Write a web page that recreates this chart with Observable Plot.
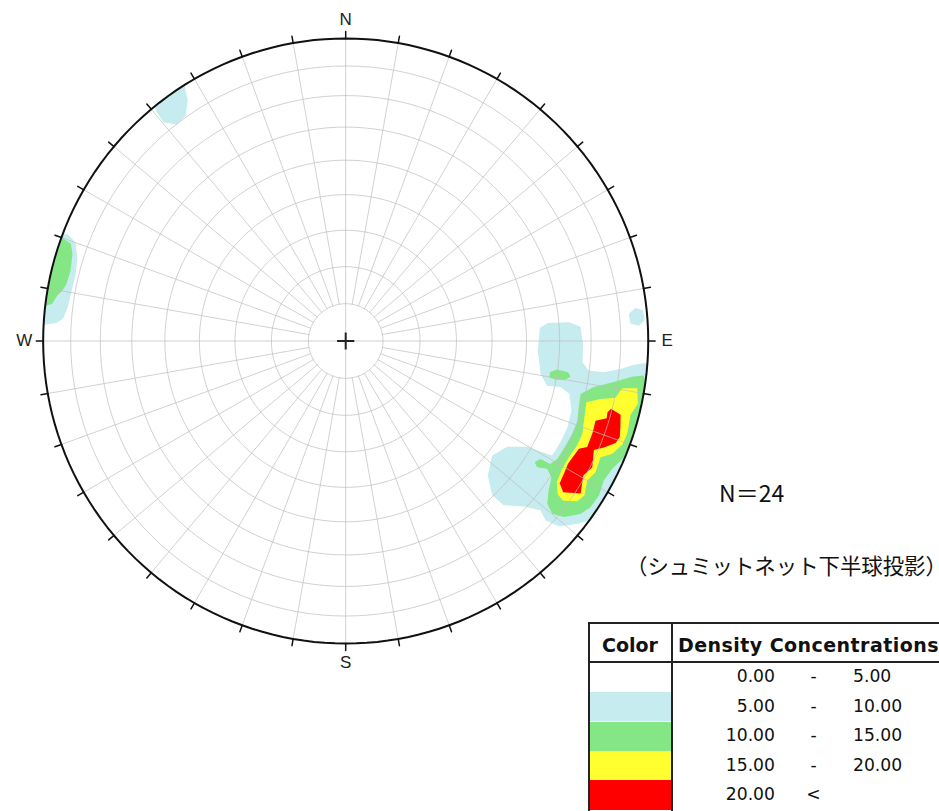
<!DOCTYPE html>
<html>
<head>
<meta charset="utf-8">
<script src="https://cdn.jsdelivr.net/npm/d3@7"></script>
<script src="https://cdn.jsdelivr.net/npm/@observablehq/plot@0.6"></script>
<style>
  html, body { margin: 0; padding: 0; background: #fff; }
  #page { position: relative; width: 939px; height: 811px; overflow: hidden; background: #fff; }
  #chart { position: absolute; left: 0; top: 0; }
  .abs { position: absolute; white-space: nowrap; }
  .jp { font-family: "Noto Sans CJK JP", sans-serif; color: #111; line-height: 1; }
  .lg { font-family: "DejaVu Sans", sans-serif; color: #111; line-height: 1; }
</style>
</head>
<body>
<div id="page"><div id="chart"></div></div>
<script>
// ---------------- data ----------------
// density contour outlines, [azimuth (deg), plunge (deg)], lower-hemisphere poles
const cyanE = [[86.1,35.9],[84.9,33.3],[85.2,26.8],[86.5,23.3],[90.7,22.6],[95.1,22.5],[96.9,20.2],[96.9,15.2],[95.8,9.6],[94.7,5],[94,-1],[100,-1],[105,-1],[110,-1],[115,-1],[120,-1],[125,-1],[127,0.8],[128.3,2.8],[131,7.4],[131.9,12.2],[131,15.8],[132.9,20.7],[136.1,25.6],[136.5,30.3],[133.4,35.6],[128,38.5],[123.2,36.4],[120.2,31.2],[119.5,26.2],[119,23],[115.2,22.6],[111.2,22.4],[107.1,23],[103.3,25],[102.1,28.2],[102.5,32.3],[99.6,35],[92.8,36.6]];
const cyanNE = [[84.5,6.7],[83.5,4.1],[84.1,1.3],[86.1,1.1],[87,3.4],[86.5,6.4]];
const cyanNW = [[321,-1],[325,-1],[328,-1],[326.7,5.5],[324.6,9.5],[322,10.1],[320.2,6.7],[320.4,2.7]];
const cyanW = [[290.8,-1],[291,2],[290,5.6],[287.1,8],[283.6,8.9],[280,8.7],[276.7,8.2],[274.5,7],[273.5,4.5],[273,-1],[281,-1]];
const greenE = [[102.7,21.5],[100.5,17.7],[98.7,11.3],[97.1,5.2],[96.6,1.1],[98.8,-1],[101.3,-1],[104,-1],[107.2,-1],[110.1,-1],[113.1,0.7],[115.6,2.6],[118.4,3.4],[121.4,2.2],[124.2,2.5],[126.4,4.1],[128.9,8.1],[129.9,12],[128.9,15.5],[126.4,17.8],[123.5,19.6],[122.4,22.2],[123.4,25.2],[122.7,26.7],[121.2,25.7],[121,22.2],[119.1,21],[115.4,20.6],[112.3,20.2],[109.3,20],[105.5,21.1]];
const greenSpotE = [[98.7,32.3],[97.7,30.2],[98,26.7],[99,25.7],[100,27.1],[100.5,30.2],[100.1,32.1]];
const greenW = [[290.1,-1],[289.5,4.1],[287.7,5.8],[284.4,6.8],[281.6,6.5],[280.1,5.5],[279,4],[277.2,2.4],[276.5,-1],[283,-1]];
const yellowE = [[99.7,8.1],[99.2,2.7],[102.1,1.4],[104.5,3.1],[108.2,2.3],[110.5,2.7],[112.9,4.8],[114.5,8.2],[117.7,7.5],[120,8.6],[122.9,6.7],[124.7,7.7],[126.3,11.8],[125.9,14.5],[123.8,17.2],[120.6,18],[117.5,18],[114.3,17.2],[111.4,17.1],[107.7,18.3],[104.3,19],[102.8,14.7],[101.9,9.8]];
const redE = [[104.3,10.4],[105,6.6],[109.3,4.5],[110.7,5.2],[112.4,8.5],[113.7,11.4],[117.1,9.3],[119.5,10.7],[123,8.2],[124.8,13.5],[123.6,16.2],[118.9,17.2],[114.8,16.2],[113.7,13.9],[110.5,14],[107.7,14.4],[106.5,11],[105.2,11.3]];

// legend
const legendLow = ["0.00", "5.00", "10.00", "15.00", "20.00"];
const legendSep = ["-", "-", "-", "-", "<"];
const legendHigh = ["5.00", "10.00", "15.00", "20.00", ""];
const legendColors = ["#ffffff", "#c6ecef", "#84e684", "#ffff30", "#ff0000"];
const legendHeader = ["Color", "Density Concentrations"];

// annotations
const countLabel = "N＝24";
const methodLabel = "（シュミットネット下半球投影）";
const cardinalLabels = ["N", "E", "S", "W"];
const cardinalAzimuths = [0, 90, 180, 270];
const tickAzimuths = d3.range(0, 360, 10);

// ---------------- build ----------------
const legendLabels = legendLow.map((v, i) => `${v} ${legendSep[i]} ${legendHigh[i]}`.trim());
const regions = [
  [1, cyanE], [1, cyanNE], [1, cyanNW], [1, cyanW],
  [2, greenE], [2, greenSpotE], [2, greenW],
  [3, yellowE], [4, redE]
];
// azimuth -> longitude for a north-pole-centred azimuthal projection (N up, E right)
const lon = az => 180 - az;
function toFeature([level, pts]) {
  const ring = pts.map(([az, pl]) => [lon(az), pl]);
  ring.push(ring[0]);
  const f = {type: "Feature", properties: {level: legendLabels[level]}, geometry: {type: "Polygon", coordinates: [ring]}};
  if (d3.geoArea(f) > 2 * Math.PI) ring.reverse();
  return f;
}
const features = regions.map(toFeature);
const hemisphere = d3.geoCircle().center([0, 90]).radius(90).precision(1)();

const labelGap = 19;
const cardinalMarks = cardinalLabels.map((t, i) => {
  const a = cardinalAzimuths[i] * Math.PI / 180;
  return Plot.text([{t, az: cardinalAzimuths[i]}], {
    x: d => lon(d.az), y: () => 0.05, text: "t",
    dx: labelGap * Math.sin(a), dy: -labelGap * Math.cos(a),
    fontFamily: "Liberation Sans", fontSize: 17, fill: "#222"
  });
});

const chart = Plot.plot({
  width: 690, height: 681,
  marginLeft: 42.7, marginRight: 42.3, marginTop: 38, marginBottom: 38,
  style: {background: "transparent", overflow: "visible"},
  projection: {
    type: () => d3.geoAzimuthalEqualArea().rotate([0, -90]).clipAngle(90).precision(0.1),
    domain: hemisphere,
    clip: false
  },
  color: {type: "ordinal", domain: legendLabels, range: legendColors},
  marks: [
    Plot.geo(features, {fill: d => d.properties.level, stroke: null}),
    Plot.graticule({stroke: "#bdbdbd", strokeOpacity: 0.7, strokeWidth: 1}),
    Plot.sphere({stroke: "#111", strokeWidth: 2}),
    Plot.vector(tickAzimuths, {x: d => lon(d), y: () => 0.05, rotate: d => d, length: 7, anchor: "start", r: 0, stroke: "#111", strokeWidth: 1.5}),
    Plot.dot([0], {x: () => 0, y: () => 90, symbol: "plus", r: 5.6, stroke: "#222", strokeWidth: 2}),
    ...cardinalMarks
  ]
});
document.getElementById("chart").append(chart);

// ---------------- annotations & legend ----------------
const page = document.getElementById("page");
function add(cls, text, css) {
  const el = document.createElement("div");
  el.className = "abs " + cls;
  el.textContent = text;
  Object.assign(el.style, css);
  page.append(el);
  return el;
}
add("jp", countLabel, {left: "719px", top: "480.5px", fontSize: "23px"});
// method note: the closing bracket is tucked so the line box stays inside the page
const note = add("jp", "", {left: "626px", top: "553.5px", fontSize: "21.4px"});
note.append(methodLabel.slice(0, -1));
const tail = document.createElement("span");
tail.textContent = methodLabel.slice(-1);
tail.style.letterSpacing = "-10px";
note.append(tail);

// legend table
const L = {left: 588.3, top: 621.7, col: 670.7, head: 660.7, rowTop: 662.7, rowH: 29.4, line: 2};
function box(css) { return add("", "", css); }
legendColors.forEach((c, i) => {
  box({left: (L.left + L.line) + "px", top: (L.rowTop + i * L.rowH) + "px", width: (L.col - L.left - L.line) + "px", height: L.rowH + "px", background: c});
});
box({left: L.left + "px", top: L.top + "px", width: "420px", height: L.line + "px", background: "#222"});
box({left: L.left + "px", top: L.head + "px", width: "420px", height: L.line + "px", background: "#222"});
box({left: L.left + "px", top: L.top + "px", width: L.line + "px", height: "220px", background: "#222"});
box({left: L.col + "px", top: L.top + "px", width: L.line + "px", height: "220px", background: "#222"});

add("lg", legendHeader[0], {left: "590px", width: "80px", textAlign: "center", top: "636px", fontSize: "19px", fontWeight: "bold"});
add("lg", legendHeader[1], {left: "678px", top: "636px", fontSize: "19px", fontWeight: "bold", letterSpacing: "0.45px"});
legendLow.forEach((v, i) => {
  const cy = L.rowTop + i * L.rowH + L.rowH / 2;
  const top = (cy - 9) + "px";
  add("lg", v, {left: "675px", width: "100px", textAlign: "right", top, fontSize: "17.2px"});
  add("lg", legendSep[i], {left: "793.5px", width: "40px", textAlign: "center", top, fontSize: "17.2px"});
  add("lg", legendHigh[i], {left: "853px", top, fontSize: "17.2px"});
});
</script>
</body>
</html>
